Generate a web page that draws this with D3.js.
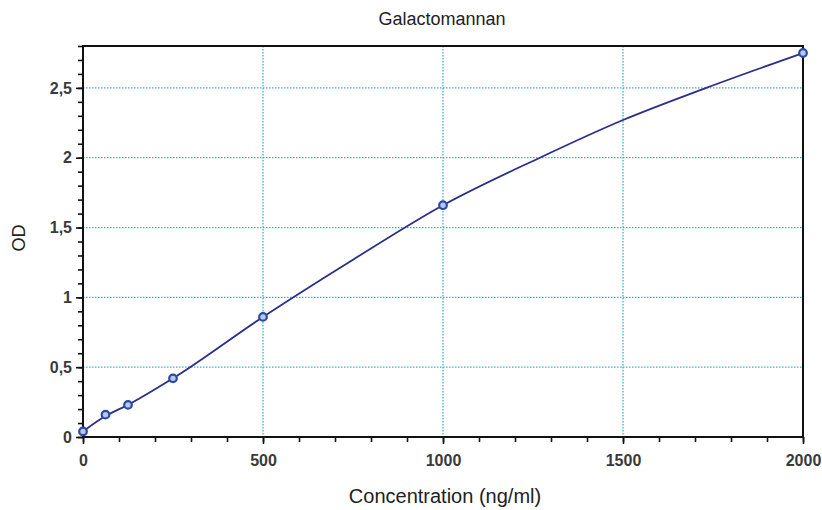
<!DOCTYPE html>
<html><head><meta charset="utf-8">
<script src="https://cdn.jsdelivr.net/npm/d3@7"></script>
<style>body{margin:0;background:#fff}svg{display:block}text{font-family:"Liberation Sans",Arial,sans-serif}</style>
</head><body>
<svg id="c" width="822" height="510"></svg>
<script>
const title = "Galactomannan";
const xLabel = "Concentration (ng/ml)";
const yLabel = "OD";
const stdConc = [0, 62.5, 125, 250, 500, 1000, 2000];
const stdOD = [0.04, 0.16, 0.23, 0.42, 0.86, 1.66, 2.75];
const fitConc = [0, 62.5, 125, 250, 500, 750, 1000, 1269, 1500, 1731, 2000];
const fitOD = [0.04, 0.15, 0.23, 0.42, 0.86, 1.27, 1.66, 2.0, 2.27, 2.5, 2.75];
const xTicks = [0, 500, 1000, 1500, 2000];
const yTicks = [0, 0.5, 1, 1.5, 2, 2.5];
const yTickLabels = ["0", "0,5", "1", "1,5", "2", "2,5"];

const svg = d3.select("#c");
const L = 83, R = 803, T = 46, B = 437;
const x = d3.scaleLinear().domain([0, 2000]).range([L, R]);
const y = d3.scaleLinear().domain([0, 2.8]).range([B, T]);

// grid
const grid = svg.append("g").attr("stroke", "#3aaed0").attr("stroke-width", 1.3).attr("stroke-dasharray", "1.5,1.5");
grid.selectAll(".gx").data(xTicks.slice(1, -1)).join("line")
  .attr("x1", d => x(d)).attr("x2", d => x(d)).attr("y1", T).attr("y2", B);
grid.selectAll(".gy").data(yTicks.slice(1)).join("line")
  .attr("x1", L).attr("x2", R).attr("y1", d => y(d)).attr("y2", d => y(d));

// axes
const xAxis = d3.axisBottom(x).tickValues(xTicks).tickSize(7).tickPadding(11).tickFormat(d3.format("d"));
const xMinor = d3.axisBottom(x).tickValues(d3.range(0, 2001, 100)).tickSize(5).tickFormat("");
const yAxis = d3.axisLeft(y).tickValues(yTicks).tickSize(7).tickPadding(4).tickFormat((d, i) => yTickLabels[i]);
const yMinor = d3.axisLeft(y).tickValues(d3.range(0, 29).map(i => i / 10)).tickSize(5).tickFormat("");

function style(g) {
  g.select(".domain").remove();
  g.selectAll("line").attr("stroke", "#111").attr("stroke-width", 1.6);
  g.selectAll("text").attr("fill", "#3a3a3a").style("font-size", "16px").style("font-weight", "bold");
}
svg.append("g").attr("transform", `translate(0,${B})`).call(xMinor).call(style);
svg.append("g").attr("transform", `translate(0,${B})`).call(xAxis).call(style);
svg.append("g").attr("transform", `translate(${L},0)`).call(yMinor).call(style);
svg.append("g").attr("transform", `translate(${L},0)`).call(yAxis).call(style);

// frame
svg.append("rect").attr("x", L).attr("y", T).attr("width", R - L).attr("height", B - T)
  .attr("fill", "none").attr("stroke", "#111").attr("stroke-width", 2);

// fitted curve
const line = d3.line().x(d => x(d[0])).y(d => y(d[1])).curve(d3.curveMonotoneX);
svg.append("path").datum(fitConc.map((c, i) => [c, fitOD[i]]))
  .attr("d", line).attr("fill", "none").attr("stroke", "#2b2f88").attr("stroke-width", 1.8);

// points
svg.append("g").selectAll("circle").data(stdConc.map((c, i) => [c, stdOD[i]])).join("circle")
  .attr("cx", d => x(d[0])).attr("cy", d => y(d[1])).attr("r", 3.8)
  .attr("fill", "#b9c7ec").attr("stroke", "#2a48a8").attr("stroke-width", 2.2);

// labels
svg.append("text").attr("x", 442).attr("y", 25).attr("text-anchor", "middle")
  .style("font-size", "18px").attr("fill", "#222").text(title);
svg.append("text").attr("x", 445).attr("y", 503).attr("text-anchor", "middle")
  .style("font-size", "20px").attr("fill", "#222").text(xLabel);
svg.append("text").attr("transform", "translate(25,238) rotate(-90)").attr("text-anchor", "middle")
  .style("font-size", "18px").attr("fill", "#222").text(yLabel);
</script>
</body></html>
